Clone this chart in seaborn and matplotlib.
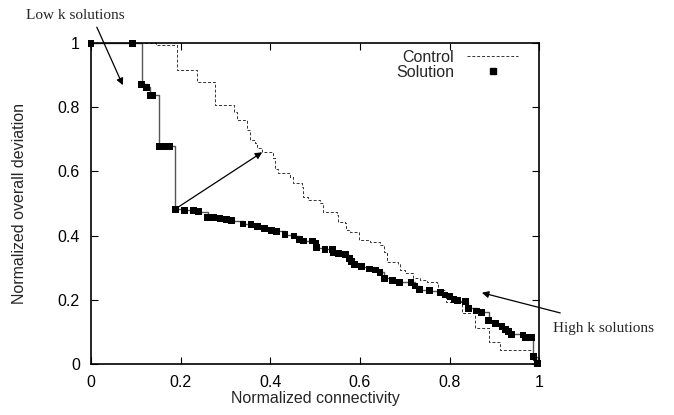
import matplotlib
matplotlib.use("Agg")
import matplotlib.pyplot as plt
from matplotlib.lines import Line2D
import pandas as pd
import seaborn as sns

# solution front (steps-post)
sol_x = [0.0, 0.092, 0.113, 0.124, 0.132, 0.138, 0.152, 0.161, 0.176, 0.188,
         0.208, 0.228, 0.240, 0.260, 0.273, 0.288, 0.303, 0.314, 0.339, 0.357,
         0.371, 0.388, 0.403, 0.414, 0.433, 0.453, 0.465, 0.475, 0.494, 0.502,
         0.504, 0.522, 0.539, 0.540, 0.552, 0.567, 0.577, 0.582, 0.588, 0.604,
         0.621, 0.634, 0.645, 0.654, 0.673, 0.688, 0.714, 0.723, 0.733, 0.755,
         0.779, 0.790, 0.801, 0.810, 0.818, 0.836, 0.842, 0.861, 0.871, 0.887,
         0.902, 0.917, 0.924, 0.931, 0.939, 0.964, 0.970, 0.984, 0.987, 0.997]
sol_y = [1.0, 1.0, 0.872, 0.862, 0.838, 0.838, 0.679, 0.679, 0.679, 0.482,
         0.479, 0.478, 0.475, 0.457, 0.456, 0.454, 0.451, 0.446, 0.436, 0.435,
         0.428, 0.423, 0.415, 0.413, 0.403, 0.399, 0.388, 0.383, 0.383, 0.376,
         0.363, 0.358, 0.357, 0.347, 0.345, 0.340, 0.329, 0.319, 0.310, 0.303,
         0.296, 0.293, 0.286, 0.267, 0.260, 0.255, 0.254, 0.243, 0.231, 0.228,
         0.222, 0.215, 0.210, 0.202, 0.197, 0.194, 0.173, 0.165, 0.161, 0.135,
         0.126, 0.116, 0.108, 0.101, 0.093, 0.090, 0.083, 0.082, 0.023, 0.002]

# control front (steps-post)
ctl_x = [0.0, 0.145, 0.191, 0.236, 0.277, 0.318, 0.325, 0.347, 0.355, 0.366,
         0.370, 0.381, 0.407, 0.411, 0.418, 0.444, 0.451, 0.470, 0.474, 0.485,
         0.511, 0.518, 0.548, 0.552, 0.567, 0.570, 0.578, 0.597, 0.623, 0.645,
         0.653, 0.660, 0.686, 0.690, 0.700, 0.719, 0.735, 0.750, 0.771, 0.775,
         0.790, 0.792, 0.816, 0.827, 0.857, 0.887, 0.912, 0.987, 1.0]
ctl_y = [1.0, 0.994, 0.916, 0.879, 0.807, 0.786, 0.760, 0.729, 0.698, 0.690,
         0.672, 0.661, 0.641, 0.609, 0.594, 0.584, 0.563, 0.552, 0.521, 0.511,
         0.501, 0.475, 0.464, 0.443, 0.438, 0.417, 0.412, 0.386, 0.381, 0.371,
         0.350, 0.319, 0.313, 0.293, 0.285, 0.267, 0.262, 0.256, 0.251, 0.231,
         0.215, 0.194, 0.194, 0.158, 0.111, 0.069, 0.044, 0.012, 0.0]

ticks = [0, 0.2, 0.4, 0.6, 0.8, 1]
tick_labels = ["0", "0.2", "0.4", "0.6", "0.8", "1"]

sol = pd.DataFrame({"x": sol_x, "y": sol_y})
ctl = pd.DataFrame({"x": ctl_x, "y": ctl_y})

sns.set_theme(style="ticks")
plt.rcParams["font.family"] = ["Liberation Sans", "DejaVu Sans"]
plt.rcParams["font.size"] = 11

fig = plt.figure(figsize=(6.74, 4.15), dpi=100)
ax = fig.add_axes([0.135, 0.123, 0.665, 0.773])

sns.lineplot(data=ctl, x="x", y="y", ax=ax, estimator=None, sort=False,
             drawstyle="steps-post", color="#333333", lw=0.7,
             dashes=False, linestyle=(0, (3, 2)))
sns.lineplot(data=sol, x="x", y="y", ax=ax, estimator=None, sort=False,
             drawstyle="steps-post", color="#555555", lw=1.0)
sns.scatterplot(data=sol, x="x", y="y", ax=ax, marker="s", s=24,
                color="black", edgecolor="none", zorder=5, clip_on=False)

ax.set_xlim(0, 1)
ax.set_ylim(0, 1)
ax.set_xticks(ticks, tick_labels)
ax.set_yticks(ticks, tick_labels)
ax.tick_params(direction="in", length=5, width=0.8, top=True, right=True,
               labelsize=11.5, colors="black", pad=8)
for sp in ax.spines.values():
    sp.set_linewidth(1.2)
    sp.set_color("black")
ax.set_xlabel("Normalized connectivity", fontsize=11.5, labelpad=1)
ax.set_ylabel("Normalized overall deviation", fontsize=11.5, labelpad=22)

handles = [
    Line2D([], [], color="#333333", lw=0.7, linestyle=(0, (3, 2))),
    Line2D([], [], color="black", marker="s", markersize=4, linestyle="none"),
]
ax.legend(handles, ["Control", "Solution"], loc="upper right",
          bbox_to_anchor=(0.985, 1.025), frameon=False, markerfirst=False,
          fontsize=11.5, handlelength=3.2, handletextpad=0.8, labelspacing=0.0)

arrow = dict(arrowstyle="-|>", color="black", lw=0.9,
             mutation_scale=10, shrinkA=0, shrinkB=0)
ax.annotate("", xy=(0.071, 0.869), xytext=(0.013, 1.050),
            arrowprops=arrow, annotation_clip=False)
ax.text(-0.035, 1.087, "Low k solutions", fontsize=11,
        family="Liberation Serif", ha="center", va="center")
ax.annotate("", xy=(0.382, 0.660), xytext=(0.188, 0.483), arrowprops=arrow)
ax.annotate("", xy=(0.872, 0.222), xytext=(1.047, 0.159),
            arrowprops=arrow, annotation_clip=False)
ax.text(1.031, 0.110, "High k solutions", fontsize=11,
        family="Liberation Serif", ha="left", va="center")

fig.savefig("out.png", dpi=100)
